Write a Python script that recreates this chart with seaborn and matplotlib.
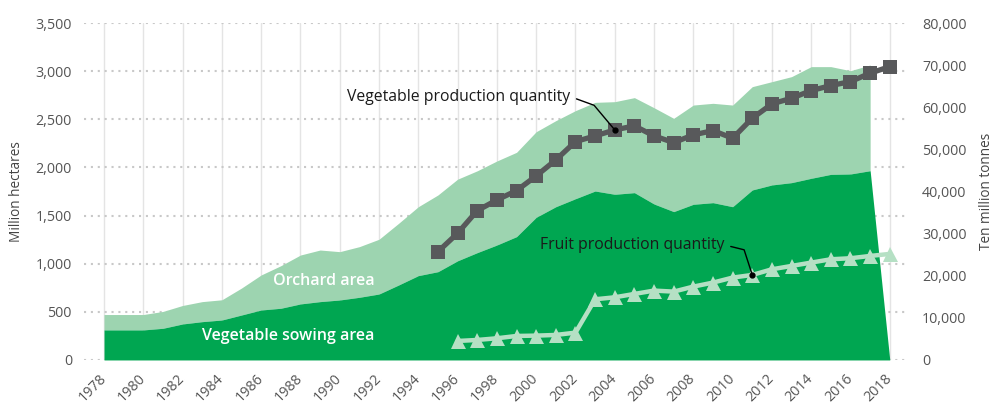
import pandas as pd
import seaborn as sns
import matplotlib.pyplot as plt

# Anos do eixo x
anos = list(range(1978, 2019))

# Área semeada de hortaliças (eixo esquerdo), 1978-2018
area_hortalicas = [312, 312, 312, 329, 374, 398, 415, 467, 519, 537,
                   582, 606, 623, 651, 685, 779, 876, 917, 1030, 1115,
                   1194, 1281, 1482, 1592, 1675, 1755, 1721, 1738, 1620, 1541,
                   1617, 1634, 1592, 1766, 1818, 1842, 1887, 1928, 1932, 1966,
                   0]

# Área de pomares (empilhada sobre as hortaliças), 1978-2017
area_pomares = [160, 160, 160, 175, 192, 208, 210, 280, 364, 442,
                508, 536, 502, 526, 569, 641, 716, 797, 848, 850,
                873, 876, 889, 894, 915, 921, 962, 987, 1000, 969,
                1031, 1032, 1056, 1073, 1073, 1101, 1160, 1119, 1073, 1098]

# Produção de hortaliças (eixo direito), 1995-2018
anos_hortalicas = list(range(1995, 2019))
producao_hortalicas = [25720, 30090, 35460, 38000, 40210, 43700, 47500, 51850,
                       53200, 54620, 55580, 53200, 51610, 53440, 54460, 52650,
                       57400, 60800, 62150, 63960, 65150, 66100, 68090, 69660]

# Produção de frutas (eixo direito), 1996-2018
anos_frutas = list(range(1996, 2019))
producao_frutas = [4510, 4750, 5150, 5700, 5780, 5940, 6490, 14410,
                   14880, 15680, 16470, 16230, 17420, 18370, 19560, 20190,
                   21530, 22330, 23120, 23910, 24150, 24700, 25180]

VERDE = '#00a651'
VERDE_CLARO = '#9dd4b0'
VERDE_LINHA = '#b5e0c4'
CINZA = '#58595b'
TEXTO = '#555555'

sns.set_style('white')
plt.rcParams['font.family'] = ['Open Sans', 'DejaVu Sans']

fig = plt.figure(figsize=(9.95, 4.04), dpi=100)
ax = fig.add_axes([0.0848, 0.109, 0.8292, 0.834])
ax2 = ax.twinx()

# Áreas empilhadas
areas = pd.DataFrame({'ano': anos, 'hortalicas': area_hortalicas})
pomar = pd.DataFrame({'ano': anos[:-1], 'pomares': area_pomares})
pomar['base'] = areas['hortalicas'].iloc[:-1].values
pomar['topo'] = pomar['base'] + pomar['pomares']

ax.fill_between(pomar['ano'], pomar['base'], pomar['topo'],
                color=VERDE_CLARO, linewidth=0, zorder=2)
ax.fill_between(areas['ano'], 0, areas['hortalicas'],
                color=VERDE, linewidth=0, zorder=3)

ax.set_xlim(1977, 2019)
ax.set_ylim(0, 3500)
ax.set_yticks(range(0, 3501, 500))
ax.set_yticklabels([f'{v:,}' for v in range(0, 3501, 500)])
ax.set_xticks(range(1978, 2019, 2))
ax.set_xticklabels([str(a) for a in range(1978, 2019, 2)],
                   rotation=45, ha='right', va='center', rotation_mode='anchor')

ax.yaxis.grid(True, color='#c8c8c8', linestyle=(0, (1, 2.3)), linewidth=1.5)
ax.xaxis.grid(True, color='#e4e4e4', linestyle='-', linewidth=1)
ax.set_axisbelow(True)
ax.tick_params(axis='both', length=0, colors=TEXTO, labelsize=10.3)
ax.tick_params(axis='y', pad=9)
ax.tick_params(axis='x', pad=12)
ax.set_ylabel('Million hectares', color='#444444', fontsize=9.8, labelpad=8)
ax.set_xlabel('')

# Linhas de produção
df_h = pd.DataFrame({'ano': anos_hortalicas, 'producao': producao_hortalicas})
df_f = pd.DataFrame({'ano': anos_frutas, 'producao': producao_frutas})

sns.lineplot(data=df_h, x='ano', y='producao', ax=ax2, color=CINZA,
             linewidth=3.8, marker='s', markersize=9.8, markeredgewidth=0)
sns.lineplot(data=df_f, x='ano', y='producao', ax=ax2, color=VERDE_LINHA,
             linewidth=3.2, marker='^', markersize=10.8, markeredgewidth=0)

ax2.set_ylim(0, 80000)
ax2.set_yticks(range(0, 80001, 10000))
ax2.set_yticklabels([f'{v:,}' for v in range(0, 80001, 10000)])
ax2.tick_params(axis='y', length=0, colors=TEXTO, labelsize=10.3, pad=9)
ax2.set_ylabel('Ten million tonnes', color='#444444', fontsize=9.8, labelpad=9)
ax2.set_xlabel('')
ax2.grid(False)

for a in (ax, ax2):
    for s in a.spines.values():
        s.set_visible(False)

# Rótulos das áreas
ax.text(1989.2, 820, 'Orchard area', color='white', fontsize=11.5,
        fontweight='semibold', ha='center', va='center', zorder=5)
ax.text(1987.4, 245, 'Vegetable sowing area', color='white', fontsize=11.5,
        fontweight='semibold', ha='center', va='center', zorder=5)

# Anotações das linhas
ax2.annotate('Vegetable production quantity', xy=(2004, 54620),
             xytext=(2001.75, 62500), ha='right', va='center',
             fontsize=11.3, color='#1a1a1a', zorder=6,
             arrowprops=dict(arrowstyle='-', color='black', lw=1,
                             relpos=(1, 0.5), shrinkA=2, shrinkB=0,
                             connectionstyle='angle,angleA=-20,angleB=130,rad=0'))
ax2.plot([2004], [54620], 'o', color='black', markersize=3.5, zorder=6)

ax2.annotate('Fruit production quantity', xy=(2011, 20190),
             xytext=(2009.6, 27300), ha='right', va='center',
             fontsize=11.3, color='#1a1a1a', zorder=6,
             arrowprops=dict(arrowstyle='-', color='black', lw=1,
                             relpos=(1, 0.5), shrinkA=2, shrinkB=0,
                             connectionstyle='angle,angleA=-14,angleB=108,rad=0'))
ax2.plot([2011], [20190], 'o', color='black', markersize=3.5, zorder=6)

fig.savefig('out.png', dpi=100)
